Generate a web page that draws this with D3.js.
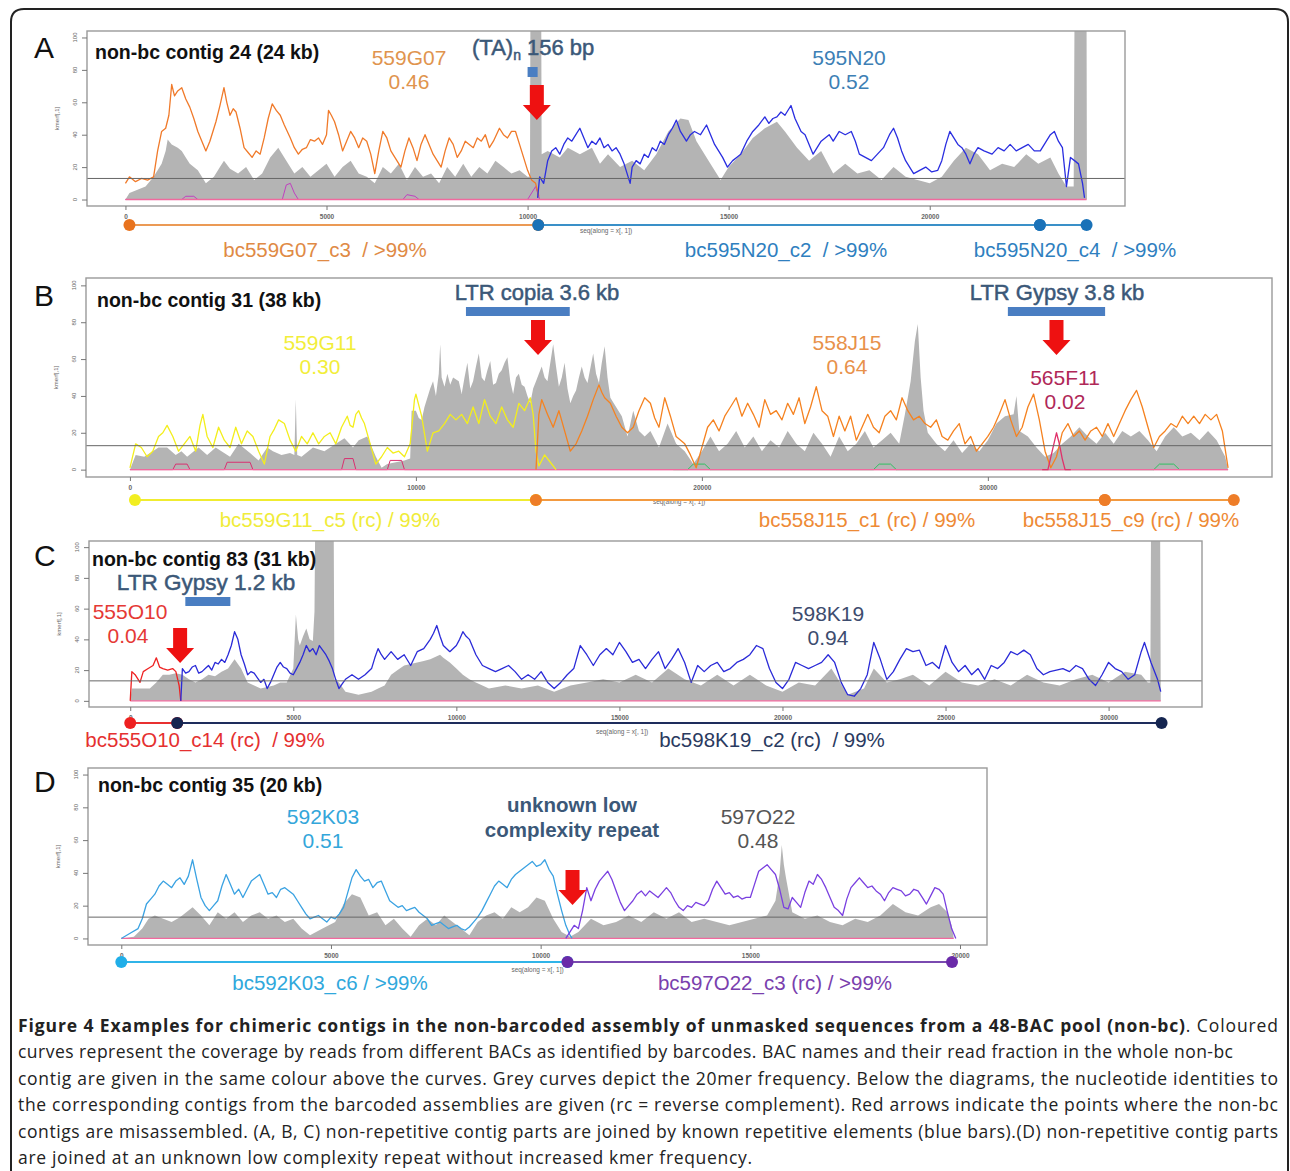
<!DOCTYPE html>
<html><head><meta charset="utf-8">
<script src="https://cdn.jsdelivr.net/npm/d3@7"></script>
<style>body{margin:0;background:#fff}svg{display:block}</style>
</head><body><svg id="c" width="1290" height="1171"></svg>
<script>
// ===== DATA (positions in kb, values = coverage / kmer frequency) =====
const yTicks = [0, 20, 40, 60, 80, 100];
const xTicksA = [0, 5000, 10000, 15000, 20000];
const xTicksB = [0, 10000, 20000, 30000];
const xTicksC = [0, 5000, 10000, 15000, 20000, 25000, 30000];
const xTicksD = [0, 5000, 10000, 15000, 20000];
const kmerThreshold = 13;

// Panel A
const A_559G07 = [[0,10],[0.1,14],[0.25,11],[0.4,13],[0.55,12],[0.7,14],[0.8,30],[0.9,42],[1.0,44],[1.08,52],[1.15,71],[1.22,64],[1.3,67],[1.4,69],[1.5,62],[1.6,57],[1.7,50],[1.8,42],[1.9,36],[2.0,30],[2.1,36],[2.25,48],[2.35,58],[2.45,69],[2.52,60],[2.6,52],[2.68,56],[2.75,54],[2.85,44],[2.95,32],[3.05,29],[3.15,26],[3.25,30],[3.35,28],[3.45,38],[3.55,50],[3.65,59],[3.75,55],[3.85,52],[3.95,46],[4.1,38],[4.2,32],[4.3,28],[4.4,31],[4.5,32],[4.6,37],[4.7,36],[4.8,38],[4.9,34],[5.0,40],[5.05,55],[5.12,52],[5.2,48],[5.3,40],[5.4,30],[5.5,36],[5.6,42],[5.7,38],[5.8,32],[5.9,38],[6.0,36],[6.1,28],[6.2,16],[6.3,30],[6.4,42],[6.5,38],[6.6,30],[6.7,26],[6.85,20],[6.95,30],[7.05,38],[7.15,32],[7.25,24],[7.35,34],[7.45,40],[7.55,34],[7.65,28],[7.75,24],[7.85,20],[7.95,30],[8.05,38],[8.15,34],[8.25,26],[8.35,30],[8.45,36],[8.55,34],[8.65,32],[8.75,38],[8.85,36],[8.95,40],[9.05,32],[9.15,36],[9.3,44],[9.4,40],[9.5,38],[9.6,42],[9.7,42],[9.8,34],[9.9,26],[10.0,18],[10.1,12],[10.2,10],[10.28,2]];
const A_595N20 = [[10.25,1],[10.3,14],[10.4,10],[10.5,24],[10.6,30],[10.7,32],[10.8,28],[10.9,34],[11.0,38],[11.1,36],[11.2,40],[11.3,44],[11.4,38],[11.5,32],[11.6,36],[11.7,34],[11.8,38],[11.9,32],[12.0,34],[12.1,30],[12.2,32],[12.3,28],[12.4,22],[12.5,14],[12.55,10],[12.6,20],[12.7,24],[12.8,22],[12.9,28],[13.0,26],[13.1,32],[13.2,30],[13.3,36],[13.4,34],[13.5,40],[13.6,44],[13.7,49],[13.8,42],[13.95,36],[14.05,40],[14.15,42],[14.3,40],[14.45,46],[14.55,40],[14.65,34],[14.75,30],[14.85,26],[14.97,20],[15.1,24],[15.2,26],[15.3,28],[15.45,36],[15.6,42],[15.75,46],[15.9,51],[16.0,47],[16.1,50],[16.2,51],[16.3,54],[16.4,52],[16.5,56],[16.55,58],[16.65,50],[16.8,42],[16.9,40],[17.0,34],[17.1,28],[17.2,32],[17.3,36],[17.4,38],[17.5,40],[17.6,36],[17.75,42],[17.9,40],[18.05,42],[18.15,36],[18.25,28],[18.4,26],[18.55,24],[18.7,28],[18.85,32],[19.0,40],[19.1,44],[19.2,38],[19.3,30],[19.4,24],[19.5,20],[19.6,16],[19.75,18],[19.9,20],[20.05,17],[20.2,18],[20.3,24],[20.4,34],[20.5,42],[20.6,38],[20.7,34],[20.8,32],[20.9,28],[21.0,22],[21.1,28],[21.2,32],[21.35,30],[21.55,28],[21.7,32],[21.85,30],[22.0,34],[22.15,30],[22.3,32],[22.45,34],[22.6,30],[22.75,30],[22.9,36],[23.0,40],[23.1,42],[23.2,36],[23.3,32],[23.4,8],[23.5,26],[23.6,24],[23.7,22],[23.8,10],[23.85,1]];
const A_kmer = [[0,0],[0.1,4],[0.3,6],[0.5,8],[0.7,14],[0.9,22],[1.0,30],[1.05,37],[1.15,34],[1.3,32],[1.4,30],[1.5,26],[1.6,22],[1.8,18],[2.0,10],[2.2,14],[2.35,20],[2.45,24],[2.6,19],[2.8,16],[3.0,20],[3.2,12],[3.4,16],[3.6,26],[3.8,32],[3.9,28],[4.0,24],[4.2,16],[4.4,20],[4.6,14],[4.8,18],[5.0,22],[5.2,14],[5.4,20],[5.6,24],[5.8,16],[6.0,14],[6.2,10],[6.4,20],[6.6,16],[6.8,22],[7.0,12],[7.2,20],[7.4,14],[7.6,16],[7.8,10],[8.0,20],[8.2,14],[8.4,22],[8.6,14],[8.8,20],[9.0,16],[9.2,24],[9.4,20],[9.6,16],[9.8,18],[10.0,14],[10.06,14],[10.07,110],[10.34,110],[10.35,28],[10.5,30],[10.8,26],[11.0,32],[11.3,28],[11.6,32],[11.8,22],[12.0,28],[12.3,20],[12.6,24],[12.9,18],[13.2,28],[13.5,42],[13.8,50],[14.0,49],[14.2,36],[14.5,24],[14.8,12],[15.0,20],[15.3,28],[15.6,38],[15.9,44],[16.2,48],[16.4,42],[16.7,32],[17.0,24],[17.3,30],[17.6,16],[17.9,22],[18.2,16],[18.5,18],[18.8,12],[19.1,20],[19.4,14],[19.7,12],[20.0,10],[20.3,14],[20.6,24],[20.9,32],[21.2,28],[21.5,18],[21.8,22],[22.1,20],[22.4,28],[22.7,22],[23.0,26],[23.2,16],[23.4,8],[23.58,8],[23.6,110],[23.9,110],[23.91,0]];
const A_minor = [[0,0],[1.4,0],[1.5,2],[1.7,2],[1.8,0],[3.9,0],[4.0,9],[4.1,10],[4.2,4],[4.3,0],[6.9,0],[7.0,3],[7.2,2],[7.3,0],[10.0,0],[10.2,8],[10.3,0],[23.85,0]];

// Panel B
const B_559G11 = [[0,1],[0.2,14],[0.4,12],[0.6,7],[0.8,10],[1.0,18],[1.15,20],[1.3,24],[1.5,18],[1.7,10],[1.9,14],[2.1,18],[2.3,10],[2.45,24],[2.55,30],[2.7,18],[2.9,12],[3.1,23],[3.3,16],[3.5,12],[3.7,23],[3.9,14],[4.1,21],[4.3,18],[4.5,10],[4.7,3],[4.9,18],[5.05,22],[5.2,27],[5.4,25],[5.6,16],[5.8,10],[6.0,18],[6.2,14],[6.4,20],[6.6,14],[6.8,18],[7.0,20],[7.2,14],[7.4,23],[7.6,29],[7.7,24],[7.8,23],[7.9,30],[8.0,32],[8.1,28],[8.2,25],[8.4,14],[8.6,3],[8.8,7],[9.0,12],[9.2,9],[9.4,10],[9.6,7],[9.8,14],[9.95,38],[10.0,41],[10.2,29],[10.4,10],[10.6,20],[10.8,21],[11.0,25],[11.2,30],[11.4,27],[11.6,30],[11.8,25],[12.0,34],[12.2,25],[12.4,38],[12.6,29],[12.8,25],[13.0,34],[13.2,27],[13.4,23],[13.6,36],[13.8,32],[14.0,39],[14.1,30],[14.2,10],[14.3,2],[14.5,8],[14.7,4],[14.9,0]];
const B_558J15 = [[14.2,0],[14.3,30],[14.4,38],[14.6,30],[14.8,23],[15.0,32],[15.2,21],[15.4,10],[15.6,14],[15.8,21],[16.0,29],[16.2,38],[16.4,46],[16.5,42],[16.6,39],[16.8,36],[17.0,29],[17.2,23],[17.4,20],[17.6,23],[17.8,32],[18.0,39],[18.2,36],[18.35,28],[18.5,23],[18.7,39],[18.9,29],[19.1,18],[19.4,14],[19.6,8],[19.8,1],[20.0,12],[20.2,23],[20.4,27],[20.6,21],[20.8,29],[21.0,34],[21.2,39],[21.4,29],[21.6,36],[21.8,30],[22.0,23],[22.2,38],[22.4,30],[22.6,32],[22.8,27],[23.0,36],[23.2,30],[23.4,39],[23.6,25],[23.8,34],[24.0,45],[24.2,32],[24.4,29],[24.6,18],[24.8,29],[25.0,21],[25.2,29],[25.4,16],[25.6,23],[25.8,30],[26.0,23],[26.2,20],[26.4,29],[26.6,32],[26.8,27],[27.0,39],[27.2,32],[27.4,27],[27.6,29],[27.8,25],[28.0,23],[28.2,27],[28.4,18],[28.6,16],[28.8,21],[29.0,25],[29.2,14],[29.4,18],[29.6,10],[29.8,14],[30.0,18],[30.2,23],[30.4,30],[30.6,38],[30.8,27],[31.0,18],[31.2,23],[31.4,34],[31.6,41],[31.8,27],[32.0,10],[32.2,1],[32.4,7],[32.6,20],[32.8,25],[33.0,18],[33.2,21],[33.4,16],[33.6,21],[33.8,23],[34.0,18],[34.2,25],[34.4,18],[34.6,25],[34.8,32],[35.0,38],[35.2,43],[35.4,34],[35.6,23],[35.8,12],[36.0,18],[36.2,21],[36.4,25],[36.6,23],[36.8,29],[37.0,25],[37.2,29],[37.4,25],[37.6,30],[37.8,27],[38.0,30],[38.2,21],[38.4,1]];
const B_565F11 = [[31.9,0],[32.1,0],[32.25,10],[32.4,20],[32.5,14],[32.6,6],[32.7,0],[32.9,0]];
const B_kmer = [[0,0],[0.2,8],[0.5,7],[0.8,10],[1.0,12],[1.3,12],[1.6,8],[1.8,10],[2.0,7],[2.4,12],[2.7,8],[3.0,12],[3.2,10],[3.5,7],[3.8,14],[4.2,9],[4.5,5],[4.8,12],[5.0,10],[5.3,8],[5.6,9],[5.75,8],[5.8,38],[5.85,8],[6.0,7],[6.4,12],[6.8,10],[7.2,14],[7.5,17],[7.8,12],[8.0,16],[8.3,18],[8.6,7],[8.8,1],[9.0,3],[9.3,4],[9.6,5],[9.8,6],[9.85,32],[10.0,32],[10.1,28],[10.2,27],[10.3,34],[10.4,39],[10.5,44],[10.6,48],[10.7,40],[10.8,52],[10.85,68],[10.9,50],[11.0,45],[11.1,52],[11.2,46],[11.3,50],[11.5,48],[11.6,41],[11.7,50],[11.8,58],[11.9,44],[12.0,48],[12.1,56],[12.2,63],[12.3,50],[12.4,48],[12.5,54],[12.6,59],[12.7,46],[12.8,47],[12.9,52],[13.0,54],[13.1,58],[13.2,61],[13.3,48],[13.4,41],[13.5,50],[13.6,52],[13.7,46],[13.8,45],[13.9,40],[14.0,36],[14.1,44],[14.2,48],[14.3,52],[14.4,56],[14.5,50],[14.6,48],[14.7,58],[14.8,68],[14.9,56],[15.0,45],[15.1,50],[15.2,58],[15.3,44],[15.4,36],[15.5,40],[15.6,43],[15.7,50],[15.8,56],[15.9,50],[16.0,47],[16.1,55],[16.2,63],[16.3,52],[16.4,47],[16.5,58],[16.6,67],[16.7,50],[16.8,39],[17.0,34],[17.2,29],[17.4,18],[17.6,32],[17.8,21],[18.0,18],[18.2,21],[18.5,12],[18.8,25],[19.1,14],[19.4,10],[19.7,3],[20.0,10],[20.3,18],[20.6,10],[20.9,14],[21.2,21],[21.5,12],[21.8,18],[22.1,10],[22.4,16],[22.7,12],[23.0,21],[23.3,14],[23.6,10],[23.9,20],[24.2,14],[24.5,7],[24.8,18],[25.1,10],[25.4,14],[25.7,21],[26.0,12],[26.3,16],[26.6,20],[26.9,14],[27.1,30],[27.3,48],[27.45,70],[27.55,79],[27.65,50],[27.75,32],[27.9,20],[28.2,14],[28.5,10],[28.8,16],[29.1,9],[29.4,14],[29.7,10],[30.0,16],[30.3,25],[30.6,29],[30.9,30],[31.0,40],[31.1,21],[31.4,18],[31.7,12],[32.0,7],[32.3,9],[32.6,14],[32.9,18],[33.2,23],[33.5,18],[33.8,14],[34.1,20],[34.4,14],[34.7,21],[35.0,18],[35.3,21],[35.6,16],[35.9,10],[36.2,18],[36.5,23],[36.8,18],[37.1,20],[37.4,16],[37.7,21],[38.0,16],[38.3,7],[38.4,0]];
const B_minorRed = [[0,0],[1.5,0],[1.6,3],[2.0,3],[2.1,0],[3.3,0],[3.4,4],[4.2,4],[4.3,0],[7.4,0],[7.5,6],[7.8,6],[7.9,0],[9.0,0],[9.1,5],[9.5,5],[9.6,0],[38.4,0]];
const B_minorGreen = [[19,0],[19.5,0],[19.7,3],[20.1,3],[20.3,0],[26.0,0],[26.2,3],[26.6,3],[26.8,0],[35.8,0],[36.0,3],[36.5,3],[36.7,0]];

// Panel C
const C_555O10 = [[0,0],[0.05,19],[0.15,17],[0.3,12],[0.4,19],[0.55,21],[0.7,23],[0.8,28],[0.9,22],[1.0,21],[1.15,20],[1.3,21],[1.4,19],[1.5,10],[1.55,0]];
const C_598K19 = [[1.55,0],[1.6,21],[1.7,18],[1.8,19],[1.9,22],[2.0,23],[2.1,18],[2.2,19],[2.3,21],[2.4,23],[2.5,20],[2.6,25],[2.7,24],[2.8,27],[2.9,25],[3.0,30],[3.1,36],[3.2,45],[3.3,40],[3.4,30],[3.5,24],[3.6,17],[3.7,19],[3.8,18],[3.9,15],[4.0,12],[4.1,14],[4.2,8],[4.3,12],[4.4,17],[4.5,22],[4.6,25],[4.7,22],[4.8,21],[4.9,18],[5.0,17],[5.1,21],[5.2,25],[5.3,30],[5.4,36],[5.5,32],[5.6,34],[5.7,30],[5.8,36],[5.9,33],[6.0,30],[6.1,26],[6.2,21],[6.3,14],[6.4,8],[6.5,11],[6.6,14],[6.8,17],[7.0,14],[7.2,17],[7.4,21],[7.5,28],[7.6,34],[7.7,30],[7.8,27],[8.0,32],[8.2,27],[8.4,30],[8.6,23],[8.8,32],[9.0,34],[9.2,40],[9.3,44],[9.4,49],[9.5,42],[9.6,36],[9.8,32],[10.0,36],[10.1,40],[10.2,45],[10.3,42],[10.4,40],[10.6,30],[10.8,23],[11.0,21],[11.2,19],[11.4,21],[11.6,23],[11.8,19],[12.0,14],[12.2,17],[12.4,14],[12.6,19],[12.8,12],[13.0,8],[13.2,12],[13.4,17],[13.6,21],[13.8,36],[14.0,30],[14.2,23],[14.4,30],[14.6,34],[14.8,30],[15.0,38],[15.2,32],[15.4,25],[15.6,27],[15.8,21],[16.0,27],[16.2,32],[16.4,21],[16.6,27],[16.8,34],[17.0,25],[17.2,12],[17.4,23],[17.6,19],[17.8,23],[18.0,25],[18.2,19],[18.4,21],[18.6,25],[18.8,27],[19.0,30],[19.2,36],[19.4,34],[19.6,21],[19.8,12],[20.0,8],[20.2,14],[20.4,25],[20.6,23],[20.8,21],[21.0,23],[21.2,25],[21.4,30],[21.6,25],[21.8,12],[22.0,4],[22.2,3],[22.4,8],[22.6,17],[22.8,38],[23.0,27],[23.2,14],[23.4,19],[23.6,27],[23.8,34],[24.0,32],[24.2,33],[24.4,23],[24.6,25],[24.8,21],[25.0,36],[25.2,25],[25.4,19],[25.6,23],[25.8,17],[26.0,21],[26.2,14],[26.4,23],[26.6,21],[26.8,25],[27.0,32],[27.2,30],[27.4,33],[27.6,30],[27.8,21],[28.0,17],[28.2,19],[28.4,20],[28.6,21],[28.8,19],[29.0,23],[29.2,21],[29.4,14],[29.6,10],[29.8,17],[30.0,25],[30.2,21],[30.4,19],[30.6,14],[30.8,17],[31.0,32],[31.1,38],[31.3,25],[31.5,14],[31.6,6]];
const C_kmer = [[0,0],[0.05,8],[0.3,8],[0.6,8],[0.8,12],[1.0,17],[1.2,17],[1.4,18],[1.6,17],[1.8,14],[2.0,12],[2.2,14],[2.4,17],[2.6,16],[2.8,19],[3.0,21],[3.2,27],[3.4,21],[3.6,12],[3.8,10],[4.0,8],[4.2,9],[4.4,10],[4.6,12],[4.8,12],[5.0,21],[5.08,56],[5.15,40],[5.2,36],[5.3,42],[5.4,47],[5.5,40],[5.6,39],[5.65,58],[5.67,110],[6.24,110],[6.26,14],[6.4,12],[6.6,6],[6.8,5],[7.0,4],[7.2,5],[7.4,6],[7.6,8],[7.8,10],[8.0,17],[8.2,20],[8.4,23],[8.6,24],[8.8,25],[9.0,26],[9.2,27],[9.4,29],[9.5,30],[9.6,28],[9.8,25],[10.0,21],[10.2,17],[10.4,14],[10.6,12],[10.8,10],[11.0,8],[11.5,10],[12.0,8],[12.5,10],[13.0,6],[13.5,10],[14.0,12],[14.5,14],[15.0,12],[15.5,17],[16.0,12],[16.5,21],[17.0,14],[17.5,10],[18.0,17],[18.5,10],[19.0,17],[19.5,10],[20.0,6],[20.5,12],[21.0,10],[21.5,21],[22.0,4],[22.5,8],[22.8,21],[23.2,12],[23.6,14],[24.0,17],[24.5,10],[25.0,19],[25.5,12],[26.0,10],[26.5,14],[27.0,10],[27.5,17],[28.0,12],[28.5,10],[29.0,14],[29.5,17],[30.0,12],[30.5,19],[31.0,17],[31.2,12],[31.28,12],[31.3,110],[31.58,110],[31.6,0]];

// Panel D
const D_592K03 = [[0,0],[0.2,3],[0.4,6],[0.5,12],[0.6,21],[0.7,24],[0.8,27],[0.9,32],[1.0,35],[1.1,33],[1.2,31],[1.3,35],[1.4,37],[1.5,33],[1.6,38],[1.7,48],[1.8,36],[1.9,25],[2.0,20],[2.1,17],[2.2,20],[2.3,23],[2.4,32],[2.5,39],[2.6,33],[2.7,27],[2.8,30],[2.9,25],[3.0,30],[3.1,35],[3.2,37],[3.3,39],[3.4,33],[3.5,27],[3.6,28],[3.7,25],[3.8,30],[3.9,31],[4.0,29],[4.1,27],[4.2,23],[4.3,19],[4.4,15],[4.5,12],[4.6,13],[4.7,14],[4.8,12],[4.9,10],[5.0,13],[5.1,12],[5.2,15],[5.3,19],[5.4,28],[5.5,37],[5.6,42],[5.7,38],[5.8,35],[5.9,36],[6.0,31],[6.1,34],[6.2,35],[6.3,29],[6.4,23],[6.5,21],[6.6,19],[6.7,20],[6.8,17],[6.9,18],[7.0,19],[7.1,16],[7.2,14],[7.3,12],[7.4,8],[7.5,9],[7.6,10],[7.7,8],[7.8,6],[7.9,7],[8.0,8],[8.1,6],[8.2,5],[8.3,7],[8.4,10],[8.5,13],[8.6,17],[8.7,22],[8.8,27],[8.9,32],[9.0,35],[9.1,33],[9.2,31],[9.3,36],[9.4,39],[9.5,41],[9.6,43],[9.7,45],[9.8,47],[9.9,44],[10.0,45],[10.1,48],[10.2,42],[10.3,38],[10.4,27],[10.5,17],[10.6,8],[10.7,2],[10.75,0]];
const D_597O22 = [[10.6,0],[10.7,4],[10.8,8],[10.9,6],[11.0,17],[11.1,31],[11.2,23],[11.3,30],[11.4,35],[11.5,38],[11.6,41],[11.7,36],[11.8,29],[11.9,22],[12.0,17],[12.1,20],[12.2,23],[12.3,27],[12.4,29],[12.5,26],[12.6,29],[12.7,27],[12.8,25],[12.9,28],[13.0,31],[13.1,28],[13.2,23],[13.3,19],[13.4,17],[13.5,20],[13.6,19],[13.7,22],[13.8,21],[13.9,20],[14.0,23],[14.1,30],[14.2,35],[14.3,31],[14.4,27],[14.5,28],[14.6,25],[14.7,26],[14.8,24],[14.9,25],[15.0,25],[15.1,33],[15.2,41],[15.3,43],[15.4,45],[15.5,42],[15.6,39],[15.7,30],[15.8,19],[15.9,18],[16.0,25],[16.1,22],[16.2,19],[16.3,28],[16.4,35],[16.5,33],[16.6,39],[16.7,36],[16.8,31],[16.9,25],[17.0,19],[17.1,17],[17.2,14],[17.3,24],[17.4,31],[17.5,34],[17.6,37],[17.7,34],[17.8,31],[17.9,32],[18.0,29],[18.1,27],[18.2,23],[18.3,28],[18.4,31],[18.5,30],[18.6,29],[18.7,26],[18.8,27],[18.9,30],[19.0,29],[19.1,25],[19.2,21],[19.3,26],[19.4,31],[19.5,30],[19.6,27],[19.7,16],[19.8,6],[19.9,0]];
const D_kmer = [[0,0],[0.3,1],[0.5,6],[0.65,12],[0.8,14],[1.0,12],[1.2,10],[1.4,13],[1.7,19],[1.9,14],[2.1,8],[2.3,16],[2.5,12],[2.7,16],[2.9,10],[3.1,14],[3.3,16],[3.5,12],[3.7,14],[3.9,10],[4.1,12],[4.3,6],[4.5,2],[4.8,6],[5.1,10],[5.3,21],[5.5,27],[5.7,25],[5.9,14],[6.1,16],[6.3,8],[6.5,12],[6.7,6],[6.9,1],[7.1,8],[7.3,12],[7.5,8],[7.7,14],[7.9,10],[8.1,6],[8.3,2],[8.5,10],[8.7,14],[8.9,16],[9.1,12],[9.3,19],[9.5,16],[9.7,19],[9.9,25],[10.1,23],[10.3,12],[10.5,4],[10.7,1],[10.9,4],[11.2,12],[11.5,8],[11.8,10],[12.1,14],[12.4,10],[12.7,16],[13.0,12],[13.3,16],[13.6,10],[13.9,12],[14.2,10],[14.5,8],[14.8,10],[15.1,12],[15.4,14],[15.6,23],[15.7,40],[15.75,57],[15.8,45],[15.85,37],[16.0,16],[16.3,12],[16.6,14],[16.9,10],[17.2,8],[17.5,12],[17.8,10],[18.1,14],[18.4,21],[18.7,16],[19.0,14],[19.3,19],[19.5,21],[19.7,16],[19.8,8],[19.85,0]];

// barcoded contig segments (bp) and identity labels
const bcA = [[100,10265],[10265,22740],[22740,23900]];
const bcB = [[175,14195],[14195,34090],[34090,38600]];
const bcC = [[0,1440],[1440,31625]];
const bcD = [[0,10640],[10640,19810]];
const bcLabelsA = ["bc559G07_c3  / >99%", "bc595N20_c2  / >99%", "bc595N20_c4  / >99%"];
const bcLabelsB = ["bc559G11_c5 (rc) / 99%", "bc558J15_c1 (rc) / 99%", "bc558J15_c9 (rc) / 99%"];
const bcLabelsC = ["bc555O10_c14 (rc)  / 99%", "bc598K19_c2 (rc)  / 99%"];
const bcLabelsD = ["bc592K03_c6 / >99%", "bc597O22_c3 (rc) / >99%"];
// BAC names and read fractions
const bacA = [["559G07","0.46"],["595N20","0.52"]];
const bacB = [["559G11","0.30"],["558J15","0.64"],["565F11","0.02"]];
const bacC = [["555O10","0.04"],["598K19","0.94"]];
const bacD = [["592K03","0.51"],["597O22","0.48"]];
// repeats (bp) and misassembly points (bp)
const repA = [[10000,10250]], repB = [[11750,15380],[30700,34100]], repC = [[1690,3070]], repD = [];
const breakA = [10230], breakB = [14270, 32400], breakC = [1530], breakD = [10760];

// ===== LAYOUT =====
const FONT = "'Liberation Sans', Arial, Helvetica, sans-serif";
const svg = d3.select('#c');
svg.append('path').attr('d','M11,1175 L11,22 Q11,9 24,9 L1275,9 Q1288,9 1288,22 L1288,1175')
  .attr('fill','none').attr('stroke','#222').attr('stroke-width',2);

const panels = [
 {id:'A', L:23900, box:{l:87,r:1125,t:31,b:206}, xTicks:xTicksA, kmer:A_kmer,
  minor:[{d:A_minor,c:'#c040c0'}],
  lines:[{d:A_559G07,c:'#f07a2a'},{d:A_595N20,c:'#2a2ee0'}],
  title:{x:95,y:59,t:'non-bc contig 24 (24 kb)'}, letter:{x:34,y:58},
  bc:{y:225, segs:bcA, line:['#eb9a55','#3a90c8','#3a90c8'], dot:['#e8731e','#1a72b8','#1a72b8'],
      labels:bcLabelsA, lx:[325,786,1075], ly:257, lc:['#e08a45','#2f7fbf','#2f7fbf']},
  bac:bacA, bx:[409,849], by:[65,89], bcol:['#e0944e','#3d7fb5'],
  rep:repA, repSquare:true, repY:67, brk:breakA, arrowY:85, seqX:null},
 {id:'B', L:38400, box:{l:86,r:1272,t:278,b:477}, xTicks:xTicksB, kmer:B_kmer,
  minor:[{d:B_minorRed,c:'#d83070'},{d:B_minorGreen,c:'#30c060'}],
  lines:[{d:B_559G11,c:'#f3ee1c'},{d:B_558J15,c:'#f58220'},{d:B_565F11,c:'#e0306a'}],
  title:{x:97,y:307,t:'non-bc contig 31 (38 kb)'}, letter:{x:34,y:306},
  bc:{y:500, segs:bcB, line:['#f0ec30','#f39a40','#f39a40'], dot:['#f2ee20','#ee7d28','#ee7d28'],
      labels:bcLabelsB, lx:[330,867,1131], ly:527, lc:['#f0ec3a','#ee8a35','#ee8a35']},
  bac:bacB, bx:[320,847,1065], by:[[350,374],[350,374],[385,409]], bcol:['#f2ee3a','#e8914a','#b02858'],
  rep:repB, repY:307, brk:breakB, arrowY:320, seqX:null},
 {id:'C', L:31600, box:{l:89,r:1202,t:541,b:707}, xTicks:xTicksC, kmer:C_kmer,
  minor:[],
  lines:[{d:C_555O10,c:'#ee2222'},{d:C_598K19,c:'#2a2ad8'}],
  title:{x:92,y:566,t:'non-bc contig 83 (31 kb)'}, letter:{x:34,y:566},
  bc:{y:723, segs:bcC, line:['#e83030','#1e2d5c'], dot:['#ee2020','#152550'],
      labels:bcLabelsC, lx:[205,772], ly:747, lc:['#e53030','#2a3a60']},
  bac:bacC, bx:[130,828], by:[[619,643],[621,645]], bcol:['#e53935','#3d4c6e'],
  rep:repC, repY:597, brk:breakC, arrowY:628, seqX:622},
 {id:'D', L:19850, box:{l:88,r:987,t:768,b:945}, xTicks:xTicksD, kmer:D_kmer,
  minor:[],
  lines:[{d:D_592K03,c:'#3aa2e2'},{d:D_597O22,c:'#7a40e0'}],
  title:{x:98,y:792,t:'non-bc contig 35 (20 kb)'}, letter:{x:34,y:792},
  bc:{y:962, segs:bcD, line:['#30b4e8','#7a4ab0'], dot:['#20aee8','#6a2aa8'],
      labels:bcLabelsD, lx:[330,775], ly:990, lc:['#30a8dc','#7a3fae']},
  bac:bacD, bx:[323,758], by:[[824,848],[824,848]], bcol:['#33a6da','#555555'],
  rep:repD, repY:0, brk:breakD, arrowY:870, seqX:null}
];

function arrowPath(cx, top){
  const sw=7, hw=14, sh=20, hh=15;
  const p = d3.path();
  p.moveTo(cx-sw, top); p.lineTo(cx+sw, top); p.lineTo(cx+sw, top+sh); p.lineTo(cx+hw, top+sh);
  p.lineTo(cx, top+sh+hh); p.lineTo(cx-hw, top+sh); p.lineTo(cx-sw, top+sh); p.closePath();
  return p.toString();
}

panels.forEach((p, i) => {
  const g = svg.append('g');
  const B = p.box;
  const x = d3.scaleLinear().domain([-0.04*p.L, 1.04*p.L]).range([B.l, B.r]);
  const y = d3.scaleLinear().domain([-4, 104]).range([B.b, B.t]);
  const cid = 'clip'+p.id;
  svg.append('clipPath').attr('id', cid).append('rect')
    .attr('x',B.l).attr('y',B.t).attr('width',B.r-B.l).attr('height',B.b-B.t);
  const plot = g.append('g').attr('clip-path',`url(#${cid})`);
  const area = d3.area().x(d=>x(d[0]*1000)).y0(y(0)).y1(d=>y(d[1]));
  const line = d3.line().x(d=>x(d[0]*1000)).y(d=>y(d[1]));
  plot.append('path').datum(p.kmer).attr('d',area).attr('fill','#b4b4b4');
  p.minor.forEach(m => plot.append('path').datum(m.d).attr('d',line)
     .attr('fill','none').attr('stroke',m.c).attr('stroke-width',1));
  plot.append('line').attr('x1',x(0)).attr('x2',x(p.L)).attr('y1',y(0)).attr('y2',y(0))
     .attr('stroke','#f06a9e').attr('stroke-width',1.3);
  p.lines.forEach(l => plot.append('path').datum(l.d).attr('d',line)
     .attr('fill','none').attr('stroke',l.c).attr('stroke-width',1.3).attr('stroke-linejoin','round'));
  plot.append('line').attr('x1',B.l).attr('x2',B.r).attr('y1',y(kmerThreshold)).attr('y2',y(kmerThreshold))
     .attr('stroke','#666').attr('stroke-width',1);
  g.append('rect').attr('x',B.l).attr('y',B.t).attr('width',B.r-B.l).attr('height',B.b-B.t)
    .attr('fill','none').attr('stroke','#9a9a9a').attr('stroke-width',1.4);
  const ya = g.append('g').attr('transform',`translate(${B.l},0)`)
    .call(d3.axisLeft(y).tickValues(yTicks).tickSize(5).tickFormat(''));
  ya.select('.domain').remove();
  ya.selectAll('line').attr('stroke','#777');
  yTicks.forEach(t => g.append('text').attr('transform',`translate(${B.l-10},${y(t)}) rotate(-90)`)
     .attr('text-anchor','middle').attr('font-family',FONT).attr('font-size',6).attr('fill','#666').text(t));
  g.append('text').attr('transform',`translate(${B.l-28},${(B.t+B.b)/2}) rotate(-90)`)
     .attr('text-anchor','middle').attr('font-family',FONT).attr('font-size',6).attr('fill','#666').text('kmerf[,1]');
  const xa = g.append('g').attr('transform',`translate(0,${B.b})`)
    .call(d3.axisBottom(x).tickValues(p.xTicks).tickSize(4).tickFormat(d3.format('d')));
  xa.select('.domain').remove();
  xa.selectAll('line').attr('stroke','#777');
  xa.selectAll('text').attr('font-family',FONT).attr('font-size',6.5).attr('font-weight','bold').attr('fill','#666').attr('dy','0.9em');
  g.append('text').attr('x',p.seqX || (B.l+B.r)/2).attr('y',B.b+27).attr('text-anchor','middle')
     .attr('font-family',FONT).attr('font-size',6.5).attr('fill','#666').text('seq(along = x[, 1])');
  g.append('text').attr('x',p.letter.x).attr('y',p.letter.y).attr('font-family',FONT).attr('font-size',30).attr('fill','#111').text(p.id);
  g.append('text').attr('x',p.title.x).attr('y',p.title.y).attr('font-family',FONT).attr('font-size',19.5)
     .attr('font-weight','bold').attr('fill','#111').text(p.title.t);
  p.bc.segs.forEach((s, k) => {
    g.append('line').attr('x1',x(s[0])).attr('x2',x(s[1])).attr('y1',p.bc.y).attr('y2',p.bc.y)
      .attr('stroke',p.bc.line[k]).attr('stroke-width',2);
    [s[0], s[1]].forEach(v => g.append('circle').attr('cx',x(v)).attr('cy',p.bc.y).attr('r',6).attr('fill',p.bc.dot[k]));
  });
  p.bc.labels.forEach((t, k) => g.append('text').attr('x',p.bc.lx[k]).attr('y',p.bc.ly).attr('text-anchor','middle')
     .attr('font-family',FONT).attr('font-size',20.5).attr('fill',p.bc.lc[k]).style('white-space','pre').text(t));
  p.bac.forEach((b, k) => {
    const yy = Array.isArray(p.by[k]) ? p.by[k] : p.by;
    g.append('text').attr('x',p.bx[k]).attr('y',yy[0]).attr('text-anchor','middle').attr('font-family',FONT)
      .attr('font-size',21).attr('fill',p.bcol[k]).text(b[0]);
    g.append('text').attr('x',p.bx[k] + (p.id==='C'&&k===0 ? -2 : 0)).attr('y',yy[1]).attr('text-anchor','middle').attr('font-family',FONT)
      .attr('font-size',21).attr('fill',p.bcol[k]).text(b[1]);
  });
  p.rep.forEach(r => {
    g.append('rect').attr('x',x(r[0])).attr('y',p.repY).attr('width',x(r[1])-x(r[0]))
      .attr('height',p.repSquare ? 10 : 9).attr('fill','#4a7ec2');
  });
  p.brk.forEach(b => g.append('path').attr('d',arrowPath(x(b), p.arrowY)).attr('fill','#ee1111'));
});

const annoCol = '#3b5878';
function anno(xx, yy, t, size, bold){
  return svg.append('text').attr('x',xx).attr('y',yy).attr('text-anchor','middle')
   .attr('font-family',FONT).attr('font-size',size).attr('font-weight',bold?'bold':'normal')
   .attr('fill',annoCol).attr('stroke',bold?'none':annoCol).attr('stroke-width',bold?0:0.5).text(t);
}
const ta = svg.append('text').attr('x',472).attr('y',55).attr('font-family',FONT).attr('font-size',22)
   .attr('fill',annoCol).attr('stroke',annoCol).attr('stroke-width',0.5);
ta.append('tspan').text('(TA)');
ta.append('tspan').attr('font-size',14).attr('dy',5).text('n');
ta.append('tspan').attr('dy',-5).text(' 156 bp');
anno(537, 300, 'LTR copia 3.6 kb', 22, false);
anno(1057, 300, 'LTR Gypsy 3.8 kb', 22, false);
anno(206, 590, 'LTR Gypsy 1.2 kb', 22.5, false);
anno(572, 812, 'unknown low', 20.5, true);
anno(572, 837, 'complexity repeat', 20.5, true);

// caption
const capLines = [
 {b:'Figure 4 Examples for chimeric contigs in the non-barcoded assembly of unmasked sequences from a 48-BAC pool (non-bc)', r:'. Coloured', w:1260},
 {r:'curves represent the coverage by reads from different BACs as identified by barcodes. BAC names and their read fraction in the whole non-bc', w:1215},
 {r:'contig are given in the same colour above the curves. Grey curves depict the 20mer frequency. Below the diagrams, the nucleotide identities to', w:1260},
 {r:'the corresponding contigs from the barcoded assemblies are given (rc = reverse complement). Red arrows indicate the points where the non-bc', w:1260},
 {r:'contigs are misassembled. (A, B, C) non-repetitive contig parts are joined by known repetitive elements (blue bars).(D) non-repetitive contig parts', w:1260},
 {r:'are joined at an unknown low complexity repeat without increased kmer frequency.', w:734}
];
capLines.forEach((c, i) => {
  const t = svg.append('text').attr('x',18).attr('y',1032 + i*26.4).attr('font-family',"'Open Sans', 'Noto Sans', sans-serif")
    .attr('font-size',17.5).attr('fill','#222').attr('textLength',c.w).attr('lengthAdjust','spacing');
  if (c.b) t.append('tspan').attr('font-weight','bold').text(c.b);
  t.append('tspan').text(c.r);
});
</script></body></html>
